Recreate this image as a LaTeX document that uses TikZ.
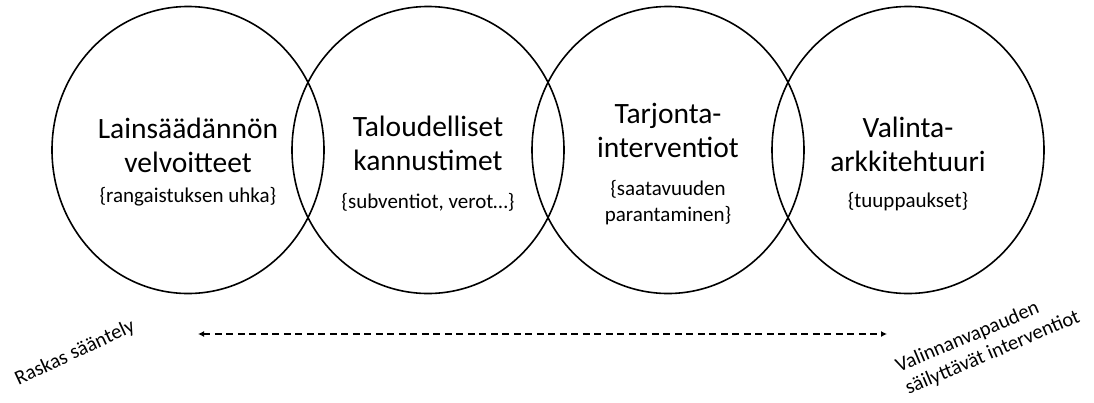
\documentclass[tikz,border=0pt]{standalone}
\usepackage{fontspec}
\setmainfont{Carlito}
\usetikzlibrary{shapes.geometric}
\usetikzlibrary{arrows.meta}

\newcommand{\detail}[1]{{\fontsize{21}{25}\selectfont #1}}

\tikzset{
  bubble/.style={draw,ellipse,line width=1.6pt,minimum width=272pt,minimum height=287pt,inner sep=0pt},
  bubbletext/.style={align=center,font=\fontsize{29.5}{34}\selectfont},
  endlabel/.style={font=\fontsize{20.5}{24}\selectfont,inner sep=0pt},
  scalearrow/.style={{Latex[length=6pt,width=6pt]}-{Latex[length=6pt,width=6pt]},line width=1.3pt,dash pattern=on 7pt off 4.5pt}
}

\begin{document}
\begin{tikzpicture}[x=1pt,y=-1pt]
  \useasboundingbox (0,0) rectangle (1094,402);

  \node[bubble] (lain) at (188,150) {};
  \node[bubble] (talous) at (428,150) {};
  \node[bubble] (tarjonta) at (668,150) {};
  \node[bubble] (valinta) at (908,150) {};

  \node[bubbletext] (lain-t) at ([yshift=-12pt]lain.center)
    {Lainsäädännön\\velvoitteet\\[-4pt]\detail{\{rangaistuksen uhka\}}};
  \node[bubbletext] (talous-t) at ([yshift=-14pt]talous.center)
    {Taloudelliset\\kannustimet\\[4pt]\detail{\{subventiot, verot…\}}};
  \node[bubbletext] (tarjonta-t) at ([yshift=-14pt]tarjonta.center)
    {Tarjonta-\\interventiot\\[4pt]\detail{\{saatavuuden}\\[-8pt]\detail{parantaminen\}}};
  \node[bubbletext] (valinta-t) at ([yshift=-14pt]valinta.center)
    {Valinta-\\arkkitehtuuri\\[2pt]\detail{\{tuuppaukset\}}};

  \coordinate (heavy) at (198,334);
  \coordinate (free) at (887,334);
  \draw[scalearrow] (heavy) -- (free);

  \node[endlabel,rotate=25] (heavy-t) at (75,353) {Raskas sääntely};
  \node[endlabel,rotate=23,align=left] (free-t) at (988,342) {Valinnanvapauden\\säilyttävät interventiot};
\end{tikzpicture}
\end{document}
